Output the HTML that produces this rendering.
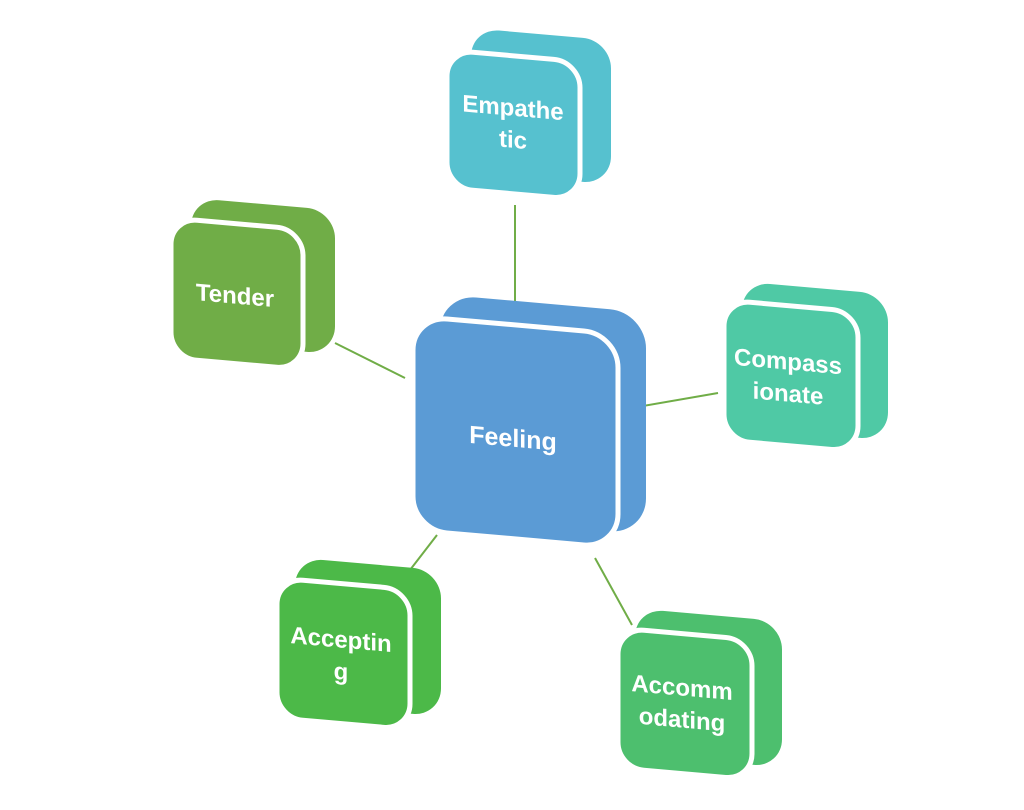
<!DOCTYPE html>
<html><head><meta charset="utf-8"><style>
html,body{margin:0;padding:0;background:#fff;}
svg{display:block}
text{font-family:"Liberation Sans",sans-serif;font-weight:bold;fill:#fff;text-anchor:middle}
</style></head><body>
<svg width="1024" height="810" viewBox="0 0 1024 810">
<g stroke="#70ad47" stroke-width="2">
<line x1="515" y1="205" x2="515" y2="322"/>
<line x1="335" y1="343" x2="405" y2="378"/>
<line x1="620" y1="410" x2="718" y2="393"/>
<line x1="437" y1="535" x2="410" y2="570"/>
<line x1="595" y1="558" x2="632" y2="625"/>
</g>
<!-- Feeling -->
<g transform="translate(413,316) skewY(5)">
<rect x="27" y="-24" width="206" height="222" rx="36" fill="#5b9bd5"/>
<rect x="0" y="0" width="205" height="214" rx="34" fill="#5b9bd5" stroke="#fff" stroke-width="5"/>
<text x="100" y="122" font-size="25">Feeling</text>
</g>
<!-- Empathetic -->
<g transform="translate(447,50) skewY(5)">
<rect x="24" y="-24" width="140" height="144" rx="28" fill="#56c1cf"/>
<rect x="0" y="0" width="133" height="138" rx="26" fill="#56c1cf" stroke="#fff" stroke-width="5"/>
<text x="66" y="60" font-size="24">Empathe</text>
<text x="66" y="92" font-size="24">tic</text>
</g>
<!-- Tender -->
<g transform="translate(171,218) skewY(5)">
<rect x="20" y="-22" width="144" height="144" rx="28" fill="#70ad47"/>
<rect x="0" y="0" width="132" height="140" rx="26" fill="#70ad47" stroke="#fff" stroke-width="5"/>
<text x="64" y="80" font-size="24">Tender</text>
</g>
<!-- Compassionate -->
<g transform="translate(724,300) skewY(5)">
<rect x="18" y="-20" width="146" height="146" rx="28" fill="#4fc9a5"/>
<rect x="0" y="0" width="134" height="140" rx="26" fill="#4fc9a5" stroke="#fff" stroke-width="5"/>
<text x="64" y="64" font-size="24">Compass</text>
<text x="64" y="96" font-size="24">ionate</text>
</g>
<!-- Accepting -->
<g transform="translate(277,578) skewY(5)">
<rect x="18" y="-22" width="146" height="146" rx="28" fill="#4cb948"/>
<rect x="0" y="0" width="133" height="140" rx="26" fill="#4cb948" stroke="#fff" stroke-width="5"/>
<text x="64" y="64" font-size="24">Acceptin</text>
<text x="64" y="96" font-size="24">g</text>
</g>
<!-- Accommodating -->
<g transform="translate(618,628) skewY(5)">
<rect x="17" y="-21" width="147" height="146" rx="28" fill="#4dbf6e"/>
<rect x="0" y="0" width="134" height="140" rx="26" fill="#4dbf6e" stroke="#fff" stroke-width="5"/>
<text x="64" y="62" font-size="24">Accomm</text>
<text x="64" y="94" font-size="24">odating</text>
</g>
</svg>
</body></html>
